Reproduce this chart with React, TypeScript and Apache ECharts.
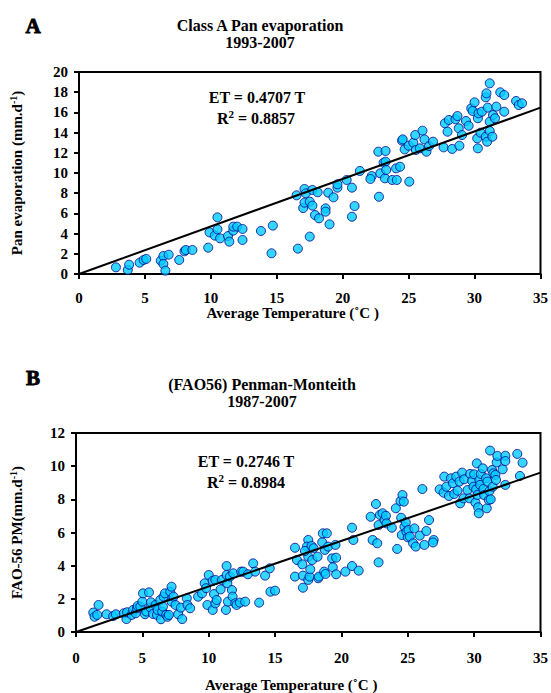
import React, { useEffect, useRef } from "react";
import * as echarts from "echarts";

const tempA = [2.8,3.7,3.8,4.6,4.9,5.1,6.2,6.4,6.4,6.55,6.8,7.6,8.0,8.1,8.6,9.8,9.9,10.3,10.5,10.5,10.7,11.3,11.4,11.7,11.7,12.0,12.4,12.4,13.8,14.6,14.7,16.6,16.5,17.1,17.2,17.0,17.1,17.5,17.5,17.7,17.7,18.1,17.9,18.2,18.7,18.7,18.9,19.0,19.3,19.6,19.6,20.3,20.7,20.9,20.7,21.3,22.75,22.2,22.1,22.7,23.25,22.85,23.1,23.25,23.2,23.3,23.75,24.1,24.05,24.35,25.05,24.5,24.55,24.7,25.0,25.35,25.5,25.55,25.85,26.05,26.2,26.35,26.55,26.85,27.65,27.75,27.95,28.05,28.3,28.55,28.7,28.8,28.85,29.05,29.35,29.55,29.75,29.85,30.0,30.2,30.25,30.25,30.3,30.45,30.55,30.85,30.9,30.85,30.95,31.15,31.0,31.15,31.15,31.35,31.4,31.55,31.65,31.95,32.25,32.25,33.15,33.35,33.6];
const panA = [0.66,0.40,0.92,1.12,1.39,1.49,1.32,1.78,0.99,0.33,1.91,1.39,2.25,2.38,2.38,2.61,4.12,3.80,5.61,4.42,3.53,3.76,3.20,4.29,4.69,4.69,4.46,3.37,4.26,2.05,4.79,2.51,7.79,8.42,7.99,6.53,7.06,3.70,7.16,6.77,8.32,8.09,5.84,5.51,6.50,6.17,8.05,4.92,7.59,8.55,8.88,9.31,8.55,6.73,5.67,10.20,7.65,9.70,9.41,12.11,12.18,9.97,11.02,11.12,9.47,10.30,9.31,9.31,10.46,10.62,9.14,13.20,13.33,12.34,12.70,13.00,13.76,12.28,12.44,14.19,13.33,12.11,12.67,13.10,12.54,14.92,14.09,15.25,12.38,15.32,15.64,14.43,12.70,13.76,15.15,14.68,16.40,16.14,17.00,13.43,12.44,15.42,15.91,13.99,16.07,17.49,17.89,13.59,13.10,18.88,16.47,15.08,14.16,13.59,15.74,15.42,16.57,17.99,17.72,16.07,17.13,16.73,16.90];

const tempB = [1.3,1.4,1.6,1.7,2.3,2.8,3.0,3.6,3.8,3.85,4.2,4.3,4.5,4.6,4.65,4.85,5.0,5.05,5.2,5.3,5.5,5.6,5.65,5.8,6.0,6.1,6.15,6.35,6.4,6.5,6.55,6.6,6.7,6.8,6.9,7.0,7.1,7.2,7.2,7.35,7.5,7.7,7.9,8.0,8.35,8.4,8.6,9.2,9.5,9.7,9.8,9.9,10.0,10.3,10.3,10.4,10.5,10.5,10.6,10.9,11.0,11.3,11.35,11.35,11.4,11.45,11.6,11.75,11.8,11.85,12.0,12.1,12.35,12.45,12.6,12.75,12.95,13.35,13.5,13.8,14.25,14.6,14.65,15.0,16.5,16.65,16.5,17.05,17.1,17.1,17.5,17.5,17.5,17.4,17.25,17.6,17.65,17.75,17.8,17.9,18.2,18.25,18.3,18.55,18.6,18.7,18.75,18.8,18.9,19.0,19.3,19.35,19.55,19.6,19.6,20.3,20.8,20.8,20.9,21.3,22.2,22.35,22.6,22.7,22.8,22.8,22.9,23.1,23.25,23.35,23.4,23.8,24.1,24.2,24.45,24.5,24.55,24.6,24.7,24.75,24.85,24.9,25.0,25.05,25.15,25.4,25.5,25.6,25.9,26.1,26.25,26.4,26.6,26.95,26.9,27.4,27.7,27.75,27.9,28.1,28.25,28.4,28.5,28.65,28.75,28.9,28.95,29.1,29.2,29.25,29.5,29.65,29.7,29.85,29.95,30.0,30.1,30.15,30.2,30.25,30.3,30.35,30.4,30.45,30.5,30.65,30.7,30.75,30.9,30.95,31.0,31.1,31.15,31.2,31.25,31.35,31.4,31.45,31.6,31.65,31.7,31.75,32.15,32.35,32.35,32.35,33.25,33.45,33.65];
const faoB = [1.17,0.92,1.03,1.63,1.07,0.96,1.07,1.13,0.78,1.19,1.03,1.33,1.13,1.43,1.57,1.53,1.83,2.33,1.07,1.23,2.39,1.49,1.79,1.09,1.63,1.03,1.33,1.93,0.77,1.23,1.53,2.13,2.33,1.03,0.92,1.03,2.43,1.83,2.73,2.13,1.63,1.07,1.47,0.78,2.03,1.63,1.43,2.13,2.33,2.94,2.64,1.63,3.44,3.08,1.33,2.29,3.14,1.73,1.93,2.57,3.14,1.33,3.98,3.44,2.94,1.83,3.34,2.53,2.13,3.54,1.73,1.63,1.77,3.64,3.64,1.83,3.48,4.14,3.64,1.77,3.40,3.84,2.43,2.49,5.08,4.34,3.34,4.08,2.67,3.40,5.55,4.54,3.14,5.15,4.89,3.34,3.78,5.19,4.34,5.05,4.54,3.24,3.34,5.41,5.95,3.64,4.95,3.50,5.95,5.15,4.44,3.90,5.25,3.48,4.48,3.64,6.29,3.98,5.55,3.70,6.95,5.55,7.72,5.35,4.20,6.45,7.06,7.16,6.75,7.01,6.55,6.29,7.46,5.01,7.90,6.89,5.85,8.26,7.86,6.35,6.61,6.05,5.71,6.15,5.75,5.35,6.25,5.15,5.81,8.62,5.25,6.09,6.75,5.55,5.40,8.60,8.40,9.37,8.76,8.20,9.27,8.97,8.32,9.37,8.52,9.07,7.76,9.61,8.06,9.21,8.56,8.06,9.53,9.11,8.76,9.51,7.80,8.60,10.17,8.26,7.52,7.16,9.17,8.87,9.53,9.87,8.62,8.26,9.27,7.46,9.07,7.96,8.50,10.94,8.00,9.77,8.76,9.57,9.47,9.17,10.23,10.62,9.81,10.63,10.31,8.87,10.74,9.41,10.21];

const slopeA = 0.4707;
const slopeB = 0.2746;
const xTicks = [0, 5, 10, 15, 20, 25, 30, 35];

const FONT = "'Liberation Serif', 'Times New Roman', serif";

export default function App() {
  const ref = useRef<HTMLDivElement>(null);
  useEffect(() => {
    if (!ref.current) return;
    const chart = echarts.init(ref.current, null, { renderer: "svg" });
    const label = { fontFamily: FONT, fontWeight: "bold" as const, fontSize: 15, color: "#000" };
    const axisCommon = {
      axisLine: { show: true, lineStyle: { color: "#000", width: 2 } },
      axisTick: { show: true, length: 5, inside: false, lineStyle: { color: "#000", width: 2 } },
      splitLine: { show: false },
    };
    const xAxisFor = (gridIndex: number, gap: number, margin: number) => ({
      type: "value" as const,
      gridIndex,
      min: xTicks[0],
      max: xTicks[xTicks.length - 1],
      interval: 5,
      ...axisCommon,
      axisLabel: { ...label, margin },
      name: "Average Temperature (˚C )",
      nameLocation: "middle" as const,
      nameGap: gap,
      nameTextStyle: { ...label, fontSize: 15, padding: [0, 34, 0, 0] },
    });
    const yName = (main: string) => ({
      name: `{a|${main}}{s|-1}{a|)}`,
      nameLocation: "middle" as const,
      nameRotate: 90,
      nameTextStyle: {
        rich: {
          a: { ...label, fontSize: 15 },
          s: { ...label, fontSize: 10, padding: [0, 0, 8, 0] },
        },
      },
    });
    const pts = (xs: number[], ys: number[]) => xs.map((x, i) => [x, ys[i]]);
    const scatterStyle = {
      type: "scatter" as const,
      symbolSize: 9,
      itemStyle: { color: "#00CCFF", borderColor: "#00008B", borderWidth: 1 },
    };
    const text = (x: number, y: number, t: string, size = 16, extra: any = {}) => ({
      type: "text",
      x,
      y,
      style: {
        text: t,
        fontFamily: FONT,
        fontWeight: "bold",
        fontSize: size,
        fill: "#000",
        align: "center",
        verticalAlign: "middle",
        ...extra,
      },
    });
    const richR = (x: number, y: number, val: string) => ({
      type: "text",
      x,
      y,
      style: {
        text: `{a|R}{s|2}{a| = ${val}}`,
        align: "center",
        verticalAlign: "middle",
        rich: {
          a: { fontFamily: FONT, fontWeight: "bold", fontSize: 16, fill: "#000" },
          s: { fontFamily: FONT, fontWeight: "bold", fontSize: 11, fill: "#000", padding: [0, 0, 9, 0] },
        },
      },
    });
    chart.setOption({
      animation: false,
      backgroundColor: "#fff",
      grid: [
        { left: 77, top: 72, width: 465, height: 202, show: true, borderColor: "#000", borderWidth: 2, backgroundColor: "transparent" },
        { left: 76, top: 433, width: 465, height: 199, show: true, borderColor: "#000", borderWidth: 2, backgroundColor: "transparent" },
      ],
      xAxis: [xAxisFor(0, 30, 16), xAxisFor(1, 45, 18)],
      yAxis: [
        {
          type: "value",
          gridIndex: 0,
          min: 0,
          max: 20,
          interval: 2,
          ...axisCommon,
          axisLabel: { ...label, margin: 11 },
          ...yName("Pan evaporation (mm.d"),
          nameGap: 53,
        },
        {
          type: "value",
          gridIndex: 1,
          min: 0,
          max: 12,
          interval: 2,
          ...axisCommon,
          axisLabel: { ...label, margin: 11 },
          ...yName("FAO-56 PM(mm.d"),
          nameGap: 50,
        },
      ],
      series: [
        { ...scatterStyle, xAxisIndex: 0, yAxisIndex: 0, data: pts(tempA, panA), z: 2 },
        {
          type: "line",
          xAxisIndex: 0,
          yAxisIndex: 0,
          data: [[0, 0], [35, slopeA * 35]],
          showSymbol: false,
          symbol: "none",
          lineStyle: { color: "#000", width: 2 },
          z: 3,
        },
        { ...scatterStyle, xAxisIndex: 1, yAxisIndex: 1, data: pts(tempB, faoB), z: 2 },
        {
          type: "line",
          xAxisIndex: 1,
          yAxisIndex: 1,
          data: [[0, 0], [35, slopeB * 35]],
          showSymbol: false,
          symbol: "none",
          lineStyle: { color: "#000", width: 2 },
          z: 3,
        },
      ],
      graphic: [
        text(33, 26, "A", 21, { stroke: "#000", lineWidth: 0.9 }),
        text(260, 25, "Class A Pan evaporation", 16),
        text(260, 42, "1993-2007", 16),
        text(257, 97, "ET = 0.4707 T", 16),
        richR(256, 118, "0.8857"),
        text(33, 378, "B", 21, { stroke: "#000", lineWidth: 0.9 }),
        text(262, 384, "(FAO56) Penman-Monteith", 16),
        text(262, 401, "1987-2007", 16),
        text(246, 461, "ET = 0.2746 T", 16),
        richR(246, 482, "0.8984"),
      ],
    });
    return () => chart.dispose();
  }, []);
  return (
    <div
      ref={ref}
      style={{ position: "absolute", left: 0, top: 0, width: 551, height: 693 }}
    />
  );
}
